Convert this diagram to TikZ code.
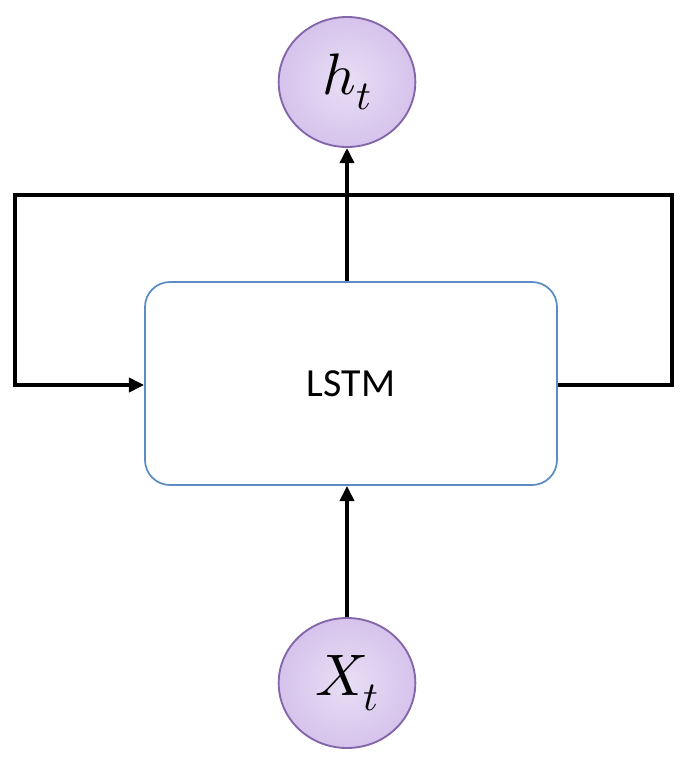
\documentclass[tikz,border=0pt]{standalone}
\usepackage{fontspec}
\setmainfont{Carlito}
\usepackage{unicode-math}
\setmathfont{Latin Modern Math}
\usetikzlibrary{shapes.geometric,arrows.meta}
\definecolor{circfill}{HTML}{D6C3EC}
\definecolor{circline}{HTML}{8466AA}
\definecolor{boxline}{HTML}{5B8CC4}
\begin{document}
\begin{tikzpicture}[x=0.03cm,y=-0.03cm,
  st/.style={ellipse,draw=circline,line width=1.6pt,inner color=circfill!55!white,outer color=circfill,minimum width=4.1cm,minimum height=3.9cm,font=\fontsize{50}{54}\selectfont},
  conn/.style={line width=3.2pt,-{Triangle[length=13pt,width=12pt]}}]
\useasboundingbox (0,0) rectangle (691,762);
\node[st] (h) at (347,82) {$h_{\scriptstyle t}$};
\node[st] (x) at (347,683) {$X_{\scriptstyle t}$};
\node[draw=boxline,line width=1.5pt,rounded corners=0.75cm,minimum width=12.36cm,minimum height=6.09cm,font=\fontsize{34}{40}\selectfont] (lstm) at (351,383.5) {LSTM};
\coordinate (r1) at (672,385);
\coordinate (r2) at (672,195);
\coordinate (l1) at (15,195);
\coordinate (l2) at (15,385);
\draw[conn,line join=miter] (lstm.east |- r1) -- (r1) -- (r2) -- (l1) -- (l2) -- (lstm.west |- l2);
\draw[conn] (lstm.north -| h) -- (h.south);
\draw[conn] (x.north) -- (lstm.south -| x);
\end{tikzpicture}
\end{document}
